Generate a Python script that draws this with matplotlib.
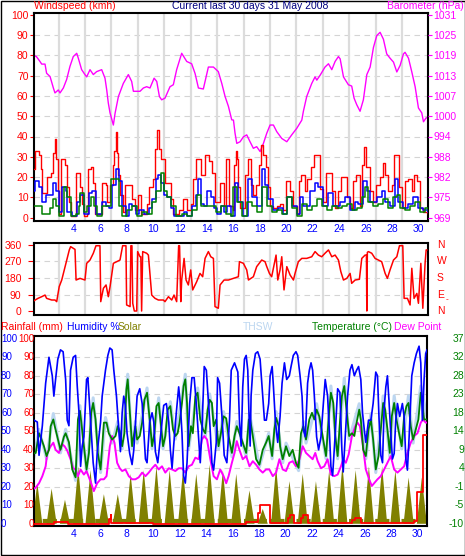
import numpy as np
import matplotlib
matplotlib.use("Agg")
import matplotlib.pyplot as plt
import matplotlib.transforms as mtransforms
from matplotlib.patches import Rectangle

plt.rcParams['font.family'] = ['Liberation Sans', 'DejaVu Sans']
plt.rcParams['font.size'] = 7.5

# ---------------- data (day of May, value) ----------------
barometer = [(1.0,1018.5),(1.18,1018.2),(1.45,1016.7),(1.58,1015.9),(1.83,1015.9),(1.95,1013.1),(2.21,1012.1),
             (2.46,1008.6),(2.58,1007.1),(2.83,1008.0),(2.96,1007.1),(3.21,1008.6),(3.46,1011.2),(3.71,1015.2),
             (3.96,1018.2),(4.22,1019.2),(4.34,1017.7),(4.59,1014.2),(4.84,1012.7),(4.97,1012.0),(5.22,1014.2),
             (5.47,1012.7),(5.72,1013.6),(6.10,1014.2),(6.35,1011.6),(6.48,1008.0),(6.60,1004.0),(6.73,1001.0),
             (6.98,997.3),(7.11,1000.9),(7.36,1006.0),(7.73,1010.0),(8.11,1012.7),(8.36,1010.6),(8.49,1007.6),
             (8.99,1007.6),(9.24,1008.6),(9.49,1009.0),(9.74,1008.6),(10.05,1011.6),(10.25,1010.6),(10.45,1006.0),
             (10.62,1005.0),(10.87,1005.5),(11.25,1009.0),(11.50,1009.6),(11.75,1014.2),(12.13,1019.2),(12.51,1016.7),
             (12.88,1016.0),(13.14,1013.0),(13.39,1008.6),(13.76,1008.3),(14.14,1015.0),(14.52,1015.0),(14.89,1013.6),
             (15.15,1010.0),(15.40,1006.0),(15.65,1003.0),(15.90,998.9),(16.03,998.8),(16.15,994.8),(16.28,991.7),
             (16.53,992.2),(16.78,993.7),(17.03,994.3),(17.28,992.2),(17.53,990.2),(17.78,990.7),(18.04,989.2),
             (18.29,991.7),(18.54,994.8),(18.79,997.3),(19.04,997.3),(19.29,995.3),(19.67,993.2),(20.05,992.2),
             (20.42,994.3),(20.80,996.3),(21.18,998.8),(21.30,1001.5),(21.55,1006.0),(21.93,1010.0),(22.18,1012.0),
             (22.31,1011.0),(22.56,1012.5),(22.93,1015.0),(23.19,1016.0),(23.44,1014.2),(23.69,1016.7),(23.94,1018.2),
             (24.07,1017.5),(24.32,1012.0),(24.69,1009.6),(24.94,1009.2),(25.12,1005.5),(25.32,1003.5),(25.57,1001.5),
             (25.82,1005.0),(26.08,1012.7),(26.33,1015.0),(26.58,1021.0),(26.83,1024.6),(27.08,1025.6),(27.33,1023.5),
             (27.58,1019.0),(27.83,1017.7),(28.09,1016.5),(28.34,1013.5),(28.59,1015.5),(28.84,1019.0),(28.96,1019.5),
             (29.22,1017.7),(29.47,1013.5),(29.72,1009.0),(29.97,1002.5),(30.22,1001.0),(30.35,998.3),(30.55,999.5),
             (30.69,999.5)]

wind_gust = [(1.0,24),(1.1,33),(1.38,31),(1.55,24),(1.6,12),(2.0,20),(2.25,22),(2.4,32),(2.56,39),(2.68,29),(2.8,13),
             (2.9,2),(3.05,29),(3.3,26),(3.52,15),(3.64,8),(3.76,1),(4.14,1),(4.2,22),(4.5,15),(4.64,7),(4.77,1),(5.0,2),
             (5.1,24),(5.3,25),(5.45,17),(5.6,2),(6.0,2),(6.1,17),(6.4,16),(6.53,8),(6.7,16),(6.95,26),(7.05,33),(7.15,42),
             (7.22,32),(7.35,21),(7.5,11),(7.7,3),(7.85,16),(8.2,16),(8.41,9),(8.6,4),(8.85,11),(9.04,2),(9.3,2),(9.5,7),
             (9.7,15),(9.95,19),(10.1,34),(10.3,43),(10.4,34),(10.55,29),(10.85,17),(11.15,17),(11.3,9),(11.5,2),(11.8,2),
             (11.95,4),(12.25,9),(12.5,4),(12.8,7),(13.0,19),(13.2,29),(13.45,29),(13.6,21),(13.9,31),(14.15,28),(14.4,22),
             (14.65,8),(15.0,17),(15.3,6),(15.5,29),(15.7,6),(16.0,4),(16.1,26),(16.2,33),(16.3,29),(16.4,15),(16.52,5),
             (16.77,5),(16.9,21),(17.1,29),(17.35,16),(17.53,11),(17.7,16),(17.95,26),(18.1,36),(18.25,31),(18.45,25),
             (18.62,15),(18.78,6),(19.04,5),(19.29,6),(19.54,7),(19.79,4),(20.0,18),(20.3,13),(20.55,6),(20.8,2),(21.0,18),
             (21.15,21),(21.4,13),(21.6,19),(21.9,25),(22.1,31),(22.4,31),(22.55,14),(22.8,8),(23.0,22),(23.3,22),(23.43,13),
             (23.65,5),(23.9,13),(24.15,20),(24.45,20),(24.56,10),(24.8,5),(25.05,18),(25.3,21),(25.55,6),(25.75,26),
             (25.9,35),(26.05,25),(26.3,13),(26.55,8),(26.8,16),(27.05,20),(27.3,27),(27.45,21),(27.7,13),(27.95,16),
             (28.15,31),(28.4,31),(28.5,15),(28.71,5),(28.95,18),(29.2,19),(29.45,13),(29.65,21),(29.85,18),(30.05,5),
             (30.34,3),(30.69,2)]

wind_avg = [(1.0,13),(1.05,18),(1.38,15),(1.6,8),(1.9,11),(2.2,11),(2.4,17),(2.63,13),(2.88,3),(3.14,15),(3.39,13),
            (3.51,3),(3.9,1),(4.27,8),(4.5,11),(4.77,2),(5.0,2),(5.15,12),(5.4,13),(5.65,2),(6.0,2),(6.15,8),(6.4,6),
            (6.65,5),(6.9,16),(7.16,24),(7.4,18),(7.66,6),(7.91,1),(8.16,7),(8.41,6),(8.66,2),(8.91,4),(9.3,2),(9.67,5),
            (9.92,9),(10.17,19),(10.35,21),(10.55,17),(10.8,11),(11.05,10),(11.3,5),(11.55,1),(12.05,1),(12.3,3),
            (12.56,1),(12.93,6),(13.19,11),(13.36,19),(13.56,7),(13.81,6),(14.07,13),(14.32,10),(14.57,5),(14.82,2),
            (15.07,6),(15.32,3),(15.57,6),(15.82,1),(16.15,17),(16.4,8),(16.77,1),(17.15,19),(17.4,10),(17.78,6),
            (18.16,24),(18.41,16),(18.66,9),(19.04,4),(19.41,5),(19.79,2),(20.09,10),(20.42,6),(20.8,2),(21.05,10),
            (21.3,6),(21.8,13),(22.18,17),(22.43,15),(22.8,6),(23.18,12),(23.56,6),(24.06,8),(24.44,10),(24.81,4),
            (25.19,8),(25.44,7),(25.82,18),(26.07,13),(26.32,8),(26.83,10),(27.2,13),(27.45,8),(27.83,6),(28.21,19),
            (28.46,8),(28.83,5),(29.21,7),(29.59,10),(29.96,5),(30.34,4),(30.69,3)]

wind_low = [(1.0,6),(1.5,6),(1.6,2),(2.0,2),(2.2,5),(2.4,9),(2.63,6),(2.88,1),(3.26,15),(3.51,10),(3.76,1),(4.14,2),
            (4.4,6),(4.5,12),(4.77,3),(5.0,6),(5.27,10),(5.52,6),(5.77,1),(6.15,6),(6.53,6),(6.78,19),(7.16,19),(7.4,6),
            (7.66,1),(8.03,4),(8.41,6),(8.79,1),(9.17,3),(9.54,2),(9.92,8),(10.17,13),(10.55,22),(10.8,13),(11.05,10),
            (11.3,6),(11.68,1),(12.18,2),(12.56,1),(12.93,4),(13.3,11),(13.56,6),(13.94,6),(14.32,6),(14.69,3),(15.07,6),
            (15.45,2),(15.82,1),(16.02,15),(16.27,8),(16.65,1),(17.03,8),(17.4,6),(17.78,3),(18.16,15),(18.53,6),
            (18.91,3),(19.29,4),(19.66,2),(20.04,10),(20.42,5),(20.8,1),(21.17,7),(21.55,4),(21.93,6),(22.3,9),
            (22.68,6),(23.06,4),(23.43,6),(23.81,5),(24.19,6),(24.56,7),(24.94,4),(25.32,5),(25.69,10),(25.95,15),
            (26.2,8),(26.57,6),(26.95,7),(27.33,9),(27.7,5),(28.08,10),(28.33,11),(28.58,5),(28.96,4),(29.34,6),
            (29.72,8),(30.09,3),(30.47,5),(30.69,4)]

wind_dir = [(1.0,56),(1.3,69),(1.58,78),(1.83,87),(1.95,69),(2.33,60),(2.58,60),(2.71,51),(2.9,133),(3.09,169),
            (3.34,242),(3.46,278),(3.66,333),(3.76,351),(4.09,336),(4.17,169),(4.47,178),(4.84,169),(4.97,260),
            (5.22,278),(5.47,315),(5.67,356),(5.97,356),(6.03,51),(6.23,124),(6.43,142),(6.6,78),(6.73,133),(6.98,260),
            (7.23,269),(7.48,278),(7.68,356),(7.93,356),(7.98,33),(8.24,24),(8.3,356),(8.38,356),(8.44,42),(8.56,0),
            (8.74,0),(8.81,324),(8.99,296),(9.05,296),(9.11,0),(9.19,324),(9.49,315),(9.62,305),(9.87,87),(10.12,69),
            (10.37,60),(10.75,60),(10.87,51),(11.13,78),(11.38,60),(11.55,87),(11.75,51),(11.9,356),(11.97,356),
            (12.06,51),(12.13,169),(12.31,287),(12.46,169),(12.63,142),(12.81,224),(12.96,115),(13.26,160),(13.51,205),
            (13.71,187),(13.89,287),(14.14,324),(14.32,296),(14.52,287),(14.64,24),(14.89,15),(15.02,142),(15.32,169),
            (15.65,169),(16.03,178),(16.4,187),(16.48,269),(16.78,260),(17.03,224),(17.16,169),(17.53,187),(17.78,242),
            (18.16,278),(18.41,269),(18.54,242),(18.74,205),(18.91,187),(19.24,305),(19.37,169),(19.54,224),(19.67,296),
            (19.84,115),(20.05,242),(20.3,196),(20.55,169),(20.67,205),(20.92,269),(21.18,287),(21.55,287),(21.93,296),
            (22.18,324),(22.43,305),(22.68,296),(22.93,315),(23.19,333),(23.44,296),(23.69,305),(23.94,278),(24.12,215),
            (24.32,169),(24.57,178),(24.82,205),(24.94,151),(25.2,169),(25.52,173),(25.7,287),(25.95,305),(26.05,305),
            (26.08,0),(26.12,320),(26.2,324),(26.45,315),(26.7,287),(26.95,278),(27.2,269),(27.46,205),(27.63,178),
            (27.83,224),(28.09,278),(28.34,296),(28.54,356),(28.79,356),(28.89,69),(29.14,69),(29.34,33),(29.47,233),
            (29.64,69),(29.85,96),(29.97,42),(30.15,260),(30.3,15),(30.47,260),(30.55,333),(30.6,333)]

humidity = [(1.0,56),(1.25,55),(1.38,37),(1.63,53),(1.88,76),(2.13,90),(2.38,80),(2.5,69),(2.63,78),(2.8,89),(3.0,94),
            (3.2,93),(3.39,78),(3.51,56),(3.64,53),(3.76,83),(3.96,90),(4.14,91),(4.27,74),(4.4,60),(4.52,31),(4.64,42),
            (4.77,47),(4.97,78),(5.07,79),(5.27,56),(5.47,33),(5.65,22),(5.77,38),(6.03,55),(6.15,69),(6.4,83),(6.58,91),
            (6.73,95),(6.9,94),(7.03,83),(7.23,69),(7.4,51),(7.53,39),(7.66,60),(7.78,69),(7.9,64),(8.03,49),(8.23,38),
            (8.41,32),(8.54,40),(8.79,69),(8.99,73),(9.17,65),(9.29,51),(9.42,35),(9.54,33),(9.74,55),(9.92,60),
            (10.05,55),(10.17,39),(10.35,33),(10.55,47),(10.8,64),(11.0,65),(11.18,55),(11.3,40),(11.43,30),(11.55,42),
            (11.75,60),(11.93,74),(12.05,65),(12.18,49),(12.3,26),(12.43,22),(12.56,33),(12.76,65),(12.93,79),(13.1,79),
            (13.26,65),(13.44,46),(13.56,33),(13.69,51),(13.86,85),(14.02,83),(14.12,72),(14.27,56),(14.44,33),
            (14.57,29),(14.77,44),(14.87,79),(15.02,76),(15.2,58),(15.37,37),(15.57,33),(15.77,56),(15.9,83),(16.15,87),
            (16.4,82),(16.52,56),(16.65,42),(16.77,74),(16.9,89),(17.03,91),(17.15,83),(17.23,62),(17.33,42),(17.4,69),
            (17.53,83),(17.73,92),(17.9,93),(18.08,89),(18.23,74),(18.41,56),(18.55,56),(18.73,65),(18.84,80),
            (18.99,85),(19.09,74),(19.24,55),(19.41,44),(19.59,58),(19.74,76),(19.92,87),(20.09,78),(20.29,80),
            (20.42,85),(20.59,91),(20.79,93),(20.92,91),(21.1,80),(21.25,69),(21.35,51),(21.5,47),(21.67,76),(21.8,83),
            (21.93,87),(22.05,83),(22.18,69),(22.35,47),(22.5,40),(22.68,47),(22.86,65),(23.0,78),(23.18,69),(23.31,51),
            (23.43,31),(23.56,26),(23.76,49),(23.94,73),(24.11,71),(24.26,40),(24.36,28),(24.51,47),(24.69,69),
            (24.87,83),(25.02,86),(25.2,80),(25.37,83),(25.52,85),(25.69,78),(25.82,60),(25.95,51),(26.07,44),
            (26.27,56),(26.45,56),(26.62,65),(26.82,82),(26.95,80),(27.07,56),(27.2,37),(27.33,33),(27.45,62),
            (27.58,74),(27.7,80),(27.83,65),(27.95,49),(28.08,35),(28.21,38),(28.33,56),(28.46,65),(28.63,58),
            (28.83,65),(28.96,58),(29.09,35),(29.21,29),(29.34,47),(29.54,80),(29.72,87),(29.89,92),(30.09,96),
            (30.22,87),(30.3,65),(30.34,56),(30.47,78),(30.59,92),(30.69,94)]

temperature = [(1.0,7.9),(1.13,8.0),(1.38,13.0),(1.5,12.1),(1.75,9.7),(1.95,7.2),(2.13,8.8),(2.26,14.8),(2.46,16.5),
               (2.56,14.9),(2.76,12.1),(3.0,8.8),(3.26,12.1),(3.39,13.0),(3.64,10.7),(3.89,3.8),(4.14,1.8),(4.32,16.5),
               (4.47,18.7),(4.57,15.9),(4.77,9.7),(4.97,3.8),(5.15,8.0),(5.32,18.2),(5.47,20.7),(5.65,16.5),(5.82,8.0),
               (6.03,3.8),(6.28,15.7),(6.48,15.7),(6.65,13.0),(6.9,11.4),(7.16,12.3),(7.33,14.8),(7.48,13.5),(7.66,9.7),
               (7.83,13.0),(7.98,24.1),(8.08,26.7),(8.23,19.1),(8.41,9.7),(8.54,12.3),(8.66,14.8),(8.79,11.4),
               (8.99,12.3),(9.17,15.7),(9.34,21.5),(9.54,23.3),(9.74,16.5),(9.92,9.7),(10.1,13.0),(10.25,19.9),
               (10.42,20.7),(10.6,14.8),(10.75,9.7),(10.92,12.3),(11.1,19.0),(11.3,19.9),(11.5,14.0),(11.68,12.3),
               (11.85,13.0),(12.0,15.7),(12.18,20.7),(12.3,25.0),(12.43,26.7),(12.56,20.7),(12.68,9.7),(12.86,14.8),
               (13.0,13.0),(13.19,22.4),(13.36,23.3),(13.56,16.5),(13.76,14.0),(13.94,13.0),(14.12,19.0),(14.27,21.5),
               (14.44,20.7),(14.57,14.8),(14.77,16.5),(14.94,9.7),(15.12,13.0),(15.32,17.3),(15.52,16.8),(15.7,12.3),
               (15.95,8.0),(16.15,12.3),(16.32,14.8),(16.52,13.0),(16.77,10.6),(17.03,8.0),(17.23,16.5),(17.33,16.5),
               (17.53,12.3),(17.78,6.4),(18.03,5.0),(18.28,8.8),(18.53,10.6),(18.73,12.3),(18.99,7.2),(19.16,14.0),
               (19.29,16.9),(19.49,14.8),(19.59,9.7),(19.79,6.4),(20.04,9.7),(20.29,7.2),(20.54,8.8),(20.79,5.5),
               (20.99,4.2),(21.17,13.0),(21.35,14.8),(21.55,11.4),(21.8,16.5),(22.0,18.2),(22.18,16.5),(22.35,19.0),
               (22.55,17.3),(22.8,12.3),(23.06,7.2),(23.31,19.0),(23.43,23.3),(23.61,20.7),(23.76,12.3),(23.94,7.2),
               (24.11,15.7),(24.26,22.4),(24.44,25.0),(24.61,19.0),(24.81,12.3),(25.02,13.0),(25.2,12.3),(25.37,15.7),
               (25.57,19.0),(25.69,16.5),(25.87,8.8),(26.07,7.2),(26.27,14.0),(26.45,16.5),(26.62,11.4),(26.82,3.8),
               (27.03,7.2),(27.2,14.0),(27.38,20.7),(27.53,19.0),(27.7,14.0),(27.88,8.0),(28.03,17.3),(28.21,20.7),
               (28.38,16.5),(28.58,13.0),(28.78,9.7),(28.96,17.3),(29.14,19.9),(29.29,20.7),(29.46,14.8),(29.64,11.4),
               (29.84,14.0),(30.04,16.5),(30.22,23.3),(30.34,20.7),(30.47,16.5),(30.69,16.5)]

thsw = [(1.0,7.0),(1.38,14.0),(1.95,6.5),(2.46,18.0),(3.0,8.0),(3.39,14.0),(4.14,1.0),(4.47,20.0),(4.97,3.0),
        (5.47,22.0),(6.03,3.0),(6.4,17.0),(6.9,10.5),(7.33,16.0),(7.66,9.0),(8.08,28.0),(8.41,9.0),(8.66,16.0),
        (8.79,10.5),(9.54,24.5),(9.92,9.0),(10.42,22.0),(10.75,9.0),(11.3,21.0),(11.68,11.5),(12.43,28.0),
        (12.68,9.0),(13.36,24.5),(13.94,12.0),(14.27,23.0),(14.94,9.0),(15.32,18.5),(15.95,7.0),(16.32,16.0),
        (17.03,7.0),(17.28,18.0),(18.03,4.5),(18.73,13.0),(18.99,6.5),(19.29,18.5),(19.79,5.5),(20.04,10.5),
        (20.99,3.5),(21.35,16.0),(21.55,10.5),(22.35,20.5),(23.06,6.5),(23.43,25.0),(23.94,6.5),(24.44,27.0),
        (24.81,11.5),(25.57,20.5),(26.07,6.5),(26.45,18.0),(26.82,3.0),(27.38,22.5),(27.88,7.0),(28.21,22.5),
        (28.78,9.0),(29.29,22.5),(29.64,10.5),(30.22,25.0),(30.69,17.0)]

dew_point = [(1.0,-1.1),(1.13,-0.8),(1.38,0.3),(1.63,2.1),(1.88,4.6),(2.0,8.0),(2.26,9.7),(2.46,10.6),(2.63,8.8),
             (2.88,8.0),(3.14,10.2),(3.31,9.7),(3.51,8.6),(3.76,6.4),(3.96,4.1),(4.14,3.8),(4.32,2.1),(4.52,3.8),
             (4.77,2.5),(4.97,3.4),(5.15,1.8),(5.32,0.3),(5.52,-1.7),(5.77,0.3),(6.03,1.3),(6.28,1.3),(6.48,2.1),
             (6.73,9.7),(6.9,12.3),(7.08,10.6),(7.28,5.5),(7.48,4.1),(7.66,3.4),(7.91,3.8),(8.16,2.1),(8.41,1.3),
             (8.66,1.3),(8.91,1.8),(9.17,3.0),(9.42,2.1),(9.67,3.0),(9.92,4.1),(10.17,5.0),(10.42,3.8),(10.67,4.6),
             (10.92,3.0),(11.18,4.1),(11.43,3.8),(11.68,3.4),(11.93,4.1),(12.18,4.1),(12.43,3.0),(12.68,4.6),
             (12.93,5.0),(13.19,6.8),(13.44,6.4),(13.69,11.4),(13.86,12.3),(14.07,11.4),(14.32,6.4),(14.57,2.1),
             (14.82,1.3),(15.07,3.8),(15.32,2.1),(15.52,0.3),(15.7,2.1),(15.95,5.5),(16.15,8.0),(16.32,11.0),
             (16.52,8.8),(16.77,6.4),(17.03,7.2),(17.28,4.6),(17.53,5.9),(17.78,5.0),(18.03,3.8),(18.28,3.0),
             (18.53,3.8),(18.78,3.8),(19.04,2.1),(19.29,3.0),(19.54,6.4),(19.79,3.8),(20.04,3.4),(20.29,5.5),
             (20.54,5.9),(20.79,4.6),(21.05,6.4),(21.3,9.7),(21.55,8.0),(21.8,7.2),(22.05,6.4),(22.25,8.0),(22.43,5.9),
             (22.68,4.1),(22.93,4.6),(23.18,6.4),(23.43,2.5),(23.68,2.1),(23.94,2.5),(24.19,4.6),(24.36,6.4),
             (24.56,5.5),(24.77,7.6),(25.02,12.3),(25.27,14.8),(25.44,15.7),(25.62,14.8),(25.82,10.6),(26.07,3.8),
             (26.32,1.3),(26.52,-0.4),(26.7,0.3),(26.95,1.3),(27.2,2.1),(27.45,3.8),(27.7,5.5),(27.95,7.2),(28.21,3.8),
             (28.46,3.0),(28.71,3.8),(28.96,4.6),(29.21,8.0),(29.46,10.6),(29.72,12.3),(29.97,13.0),(30.22,15.7),
             (30.39,16.5),(30.59,15.7),(30.69,15.7)]

# solar: time of daily peak and peak height (chart units)
solar_day = [1.25, 2.33, 3.34, 4.34, 5.27, 6.28, 7.33, 8.30, 9.29, 10.25, 11.25, 12.26, 13.26, 14.27, 15.27,
             16.28, 17.28, 18.28, 19.29, 20.30, 21.30, 22.30, 23.30, 24.30, 25.30, 26.30, 27.30, 28.30, 29.30, 30.30]
solar_peak = [22, 19, 13, 31, 29, 16, 16, 27, 29, 31, 29, 29, 27, 32, 29, 27, 18, 8, 31, 23, 27, 23, 29, 32, 29,
              31, 31, 29, 25, 25]

rainfall = [(1.0,0),(2.5,1),(3.6,0),(6.7,2.7),(6.78,4.5),(6.85,0.5),(10.0,0),(17.0,0.8),(17.9,6),(18.05,10),
            (18.8,0.3),(20.2,3),(20.33,5),(20.65,0.5),(21.15,3),(21.33,5),(21.68,0.3),(25.05,1.8),(25.25,3.2),
            (25.7,0.3),(29.5,0.5),(29.7,1.5),(29.97,17),(30.42,48),(30.69,48)]

day_labels = list(range(4, 31, 2))
day_grid = [2.85, 4.84, 6.84, 8.83, 10.82, 12.81, 14.8, 16.8, 18.79, 20.78, 22.77, 24.76, 26.76, 28.75]
ws_ticks = list(range(0, 101, 10))
baro_labels = ['969', '975', '982', '988', '994', '1000', '1007', '1013', '1019', '1025', '1031']
dir_ticks = [0, 90, 180, 270, 360]
dir_names = ['N', 'E', 'S', 'W', 'N']
temp_labels = ['-10', '-5', '-1', '4', '9', '14', '18', '23', '28', '32', '37']

# ---------------- figure ----------------
W, H = 465, 556
fig = plt.figure(figsize=(W / 100, H / 100), dpi=100)
XMIN, XMAX = 1.0, 30.69
GRID = '#d4d4d4'


def px_axes(x0, y0, x1, y1):
    return fig.add_axes([x0 / W, 1 - y1 / H, (x1 - x0) / W, (y1 - y0) / H])


def ftext(x, y, s, **kw):
    fig.text(x / W, 1 - y / H, s, va='center', **kw)


def style(ax, hlines, vgrid=True):
    for sp in ax.spines.values():
        sp.set_color('black')
        sp.set_linewidth(1.5)
    ax.set_xlim(XMIN, XMAX)
    for v in hlines:
        ax.axhline(v, color=GRID, lw=0.8, dashes=(5, 4), zorder=0)
    if vgrid:
        for d in day_grid:
            ax.axvline(d, color='#dcdcdc', lw=1.6, zorder=0)


def unzip(pairs):
    a = np.array(pairs, dtype=float)
    return a[:, 0], a[:, 1]


# ---- top panel: wind speed + barometer ----
ax1 = px_axes(34, 13, 428, 221)
ax1.set_ylim(-1.6, 100.8)
style(ax1, ws_ticks[1:-1])
t, p = unzip(barometer)
ax1.plot(t, (p - 969) / 0.62, color='#ff00ff', lw=1.0, zorder=2)
t, v = unzip(wind_gust)
ax1.plot(t, v, color='red', lw=1.0, drawstyle='steps-post', zorder=3)
t, v = unzip(wind_avg)
ax1.plot(t, v, color='blue', lw=1.1, drawstyle='steps-post', zorder=4)
t, v = unzip(wind_low)
ax1.plot(t, v, color='green', lw=1.1, drawstyle='steps-post', zorder=5)
ax1.set_yticks(ws_ticks)
ax1.tick_params(axis='y', colors='red', length=3, pad=1, labelsize=7.5)
ax1.set_xticks(day_labels)
ax1.tick_params(axis='x', length=0, pad=2, labelcolor='blue', labelsize=7.5)

ax1b = ax1.twinx()
ax1b.set_ylim(969 + 0.62 * -1.6, 969 + 0.62 * 100.8)
ax1b.set_yticks([969 + 0.62 * v for v in ws_ticks])
ax1b.set_yticklabels(baro_labels)
ax1b.tick_params(axis='y', colors='#ff00ff', length=3, pad=1, labelsize=7.5)
for sp in ax1b.spines.values():
    sp.set_visible(False)

ftext(34, 6, 'Windspeed (kmh)', color='red', ha='left')
ftext(250, 6, 'Current last 30 days 31 May 2008', color='#000080', ha='center')
ftext(464, 6, 'Barometer (hPa)', color='#ff00ff', ha='right')

# ---- middle panel: wind direction ----
ax2 = px_axes(34, 243, 428, 315)
ax2.set_ylim(-21.8, 370.9)
style(ax2, dir_ticks[1:-1])
t, v = unzip(wind_dir)
ax2.plot(t, v, color='red', lw=1.1, zorder=3)
ax2.set_xticks([])
ax2.set_yticks(dir_ticks)
ax2.tick_params(axis='y', colors='red', length=4, pad=5, labelsize=7.5)
trans2 = mtransforms.blended_transform_factory(fig.transFigure, ax2.transData)
for d, n in zip(dir_ticks, dir_names):
    fig.text(437 / W, d, n, transform=trans2, color='red', ha='left', va='center')
ftext(446, 300, '-', color='red', ha='left', fontsize=6)

# ---- bottom panel ----
ax3 = px_axes(34, 336, 427, 526)
ax3.set_ylim(-1.2, 101.5)
style(ax3, ws_ticks[1:-1], vgrid=False)

for d, pk in zip(solar_day, solar_peak):
    ax3.fill([d - 0.38, d, d + 0.38], [0, pk, 0], color='#808000', lw=0, zorder=1)
ax3.plot([XMIN, XMAX], [1.3, 1.3], color='#808000', lw=3, dashes=(1.3, 0.8), zorder=1)

t, v = unzip(rainfall)
ax3.plot(t, v, color='red', lw=1.3, drawstyle='steps-post', zorder=6)


def to_axis(c):
    return (np.asarray(c) + 10) / 0.47


t, v = unzip(thsw)
ax3.plot(t, to_axis(v), color='#bcd6f0', lw=2.2, zorder=2)
t, v = unzip(dew_point)
ax3.plot(t, to_axis(v), color='#ff00ff', lw=1.4, zorder=3)
t, v = unzip(temperature)
ax3.plot(t, to_axis(v), color='green', lw=1.3, zorder=4)
t, v = unzip(humidity)
ax3.plot(t, v, color='blue', lw=1.2, zorder=5)

ax3.set_yticks([])
ax3.set_xticks(day_labels)
ax3.tick_params(axis='x', length=0, pad=2, labelcolor='blue', labelsize=7.5)

trans3 = mtransforms.blended_transform_factory(fig.transFigure, ax3.transData)
for v, tl in zip(ws_ticks, temp_labels):
    fig.text(1 / W, v, str(v), transform=trans3, color='blue', ha='left', va='center', fontsize=7)
    fig.text(34 / W, v, str(v), transform=trans3, color='red', ha='right', va='center', fontsize=7)
    fig.text(464 / W, v, tl, transform=trans3, color='green', ha='right', va='center')

ftext(1, 327, 'Rainfall (mm)', color='red', ha='left')
ftext(67, 327, 'Humidity %', color='blue', ha='left')
ftext(118, 327, 'Solar', color='#808000', ha='left')
ftext(243, 327, 'THSW', color='#bcd6f0', ha='left')
ftext(312, 327, 'Temperature (°C)', color='green', ha='left')
ftext(394, 327, 'Dew Point', color='#ff00ff', ha='left')

# outer frame
fig.patches.append(Rectangle((0.5 / W, 1 - 554.5 / H), 464 / W, 554 / H, transform=fig.transFigure,
                             fill=False, edgecolor='black', lw=1.0))

fig.savefig('out.png', dpi=100)
